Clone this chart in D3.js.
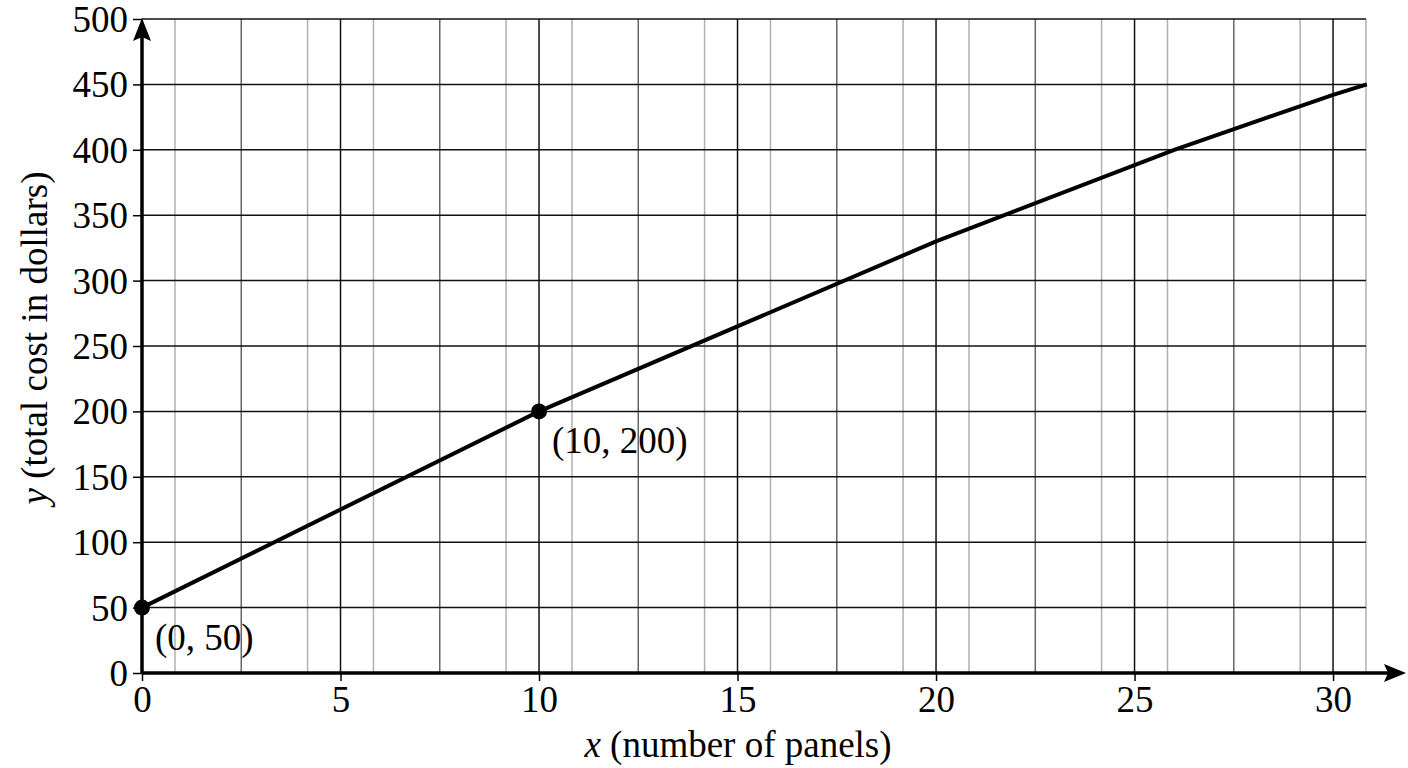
<!DOCTYPE html>
<meta charset="utf-8">
<style>
body{ margin: 0; background: white; }
svg{ display: block; font-family: "Liberation Serif", "Times New Roman", serif; }
.tick text{ font-size: 37px; fill: #000; font-family: "Liberation Serif", "Times New Roman", serif; }
.domain{ display: none; }
</style>
<body>
<div id="graph"></div>
<script src="https://cdn.jsdelivr.net/npm/d3@7"></script>
<script>
// values
var xTicks = [0, 5, 10, 15, 20, 25, 30]
var yTicks = [0, 50, 100, 150, 200, 250, 300, 350, 400, 450, 500]
var xLightGrid = [0.83, 4.17, 5.83, 9.17, 10.83, 14.17, 15.83, 19.17, 20.83, 24.17, 25.83, 29.17, 30.83]
var xMidGrid = [2.5, 7.5, 12.5, 17.5, 22.5, 27.5]
var panels = [0, 10, 20, 26, 30, 30.85]
var cost = [50, 200, 330, 400, 442, 450]
var markedX = [0, 10]
var markedY = [50, 200]
var markedLabels = ['(0, 50)', '(10, 200)']

var width = 1408, height = 768,
    fontSize = 37

var svg = d3.select('#graph').append('svg')
    .attr('width', width)
    .attr('height', height)

var x = d3.scaleLinear().domain([0, 30.83]).range([142, 1366])
var y = d3.scaleLinear().domain([0, 500]).range([673, 19])

// grid
var grid = svg.append('g')
grid.selectAll('.vl').data(xLightGrid).enter().append('line')
    .attr('x1', d => x(d)).attr('x2', d => x(d))
    .attr('y1', y(500)).attr('y2', y(0))
    .attr('stroke', '#b0b0b0').attr('stroke-width', 1.5)
grid.selectAll('.vm').data(xMidGrid).enter().append('line')
    .attr('x1', d => x(d)).attr('x2', d => x(d))
    .attr('y1', y(500)).attr('y2', y(0))
    .attr('stroke', '#666').attr('stroke-width', 1.5)
grid.selectAll('.vd').data(xTicks.slice(1)).enter().append('line')
    .attr('x1', d => x(d)).attr('x2', d => x(d))
    .attr('y1', y(500)).attr('y2', y(0))
    .attr('stroke', '#111').attr('stroke-width', 1.5)
grid.selectAll('.h').data(yTicks.slice(1)).enter().append('line')
    .attr('x1', x(0)).attr('x2', x(30.83))
    .attr('y1', d => y(d)).attr('y2', d => y(d))
    .attr('stroke', '#111').attr('stroke-width', 1.5)

// axes with labels
svg.append('g')
    .attr('transform', 'translate(0,' + y(0) + ')')
    .call(d3.axisBottom(x).tickValues(xTicks).tickSize(8).tickPadding(5).tickFormat(d3.format('d')))
    .attr('font-family', null)
    .call(g => g.selectAll('.tick line').attr('stroke', '#000').attr('stroke-width', 1.5))

svg.append('g')
    .attr('transform', 'translate(' + x(0) + ',0)')
    .call(d3.axisLeft(y).tickValues(yTicks).tickSize(9).tickPadding(5).tickFormat(d3.format('d')))
    .attr('font-family', null)
    .call(g => g.selectAll('.tick line').attr('stroke', '#000').attr('stroke-width', 1.5))
    .call(g => g.selectAll('.tick text').attr('dy', '0.34em'))

// axis lines with arrows
svg.append('line')
    .attr('x1', x(0)).attr('x2', 1392)
    .attr('y1', y(0)).attr('y2', y(0))
    .attr('stroke', '#000').attr('stroke-width', 3.5)
svg.append('path')
    .attr('d', d3.line()([[1406, y(0)], [1384, y(0) - 9], [1388, y(0)], [1384, y(0) + 9]]) + 'Z')
    .attr('fill', '#000')

svg.append('line')
    .attr('x1', x(0)).attr('x2', x(0))
    .attr('y1', y(0)).attr('y2', 30)
    .attr('stroke', '#000').attr('stroke-width', 3.5)
svg.append('path')
    .attr('d', d3.line()([[x(0), 18], [x(0) - 9, 41], [x(0), 37], [x(0) + 9, 41]]) + 'Z')
    .attr('fill', '#000')

// the cost line
var pts = panels.map((d, i) => [d, cost[i]])
svg.append('path')
    .datum(pts)
    .attr('d', d3.line().x(d => x(d[0])).y(d => y(d[1])))
    .attr('fill', 'none')
    .attr('stroke', '#000')
    .attr('stroke-width', 4)

svg.selectAll('.dot').data(markedX).enter().append('circle')
    .attr('cx', d => x(d))
    .attr('cy', (d, i) => y(markedY[i]))
    .attr('r', 8)
    .attr('fill', '#000')

svg.selectAll('.lab').data(markedLabels).enter().append('text')
    .attr('x', (d, i) => x(markedX[i]) + 13)
    .attr('y', (d, i) => y(markedY[i]) + 42)
    .attr('font-size', fontSize)
    .text(d => d)

// axis titles
var xt = svg.append('text')
    .attr('x', 738).attr('y', 757)
    .attr('text-anchor', 'middle')
    .attr('font-size', fontSize)
xt.append('tspan').attr('font-style', 'italic').text('x')
xt.append('tspan').text(' (number of panels)')

var yt = svg.append('text')
    .attr('transform', 'translate(47,338) rotate(-90)')
    .attr('text-anchor', 'middle')
    .attr('font-size', fontSize)
yt.append('tspan').attr('font-style', 'italic').text('y')
yt.append('tspan').text(' (total cost in dollars)')
</script>
